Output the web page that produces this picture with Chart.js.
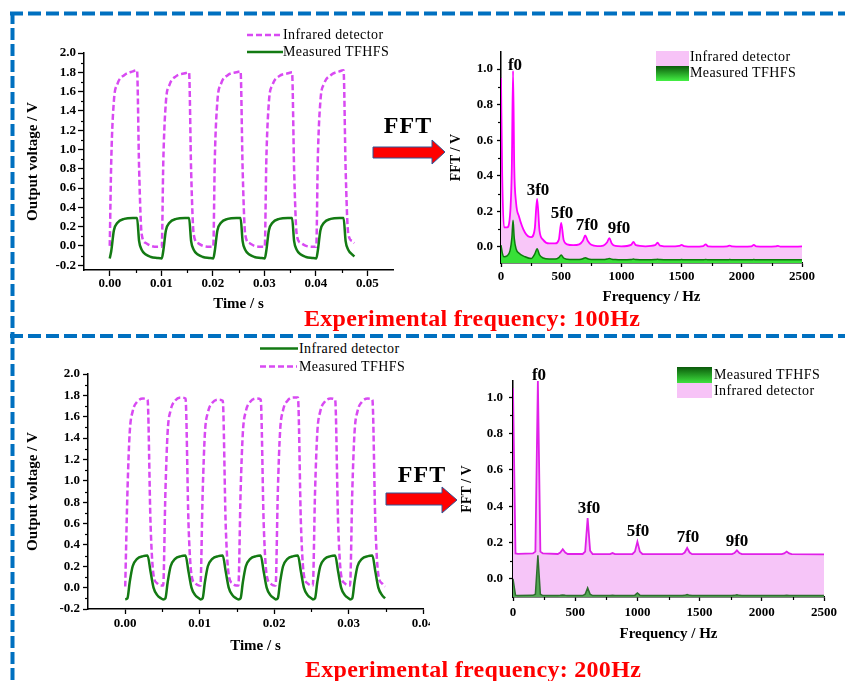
<!DOCTYPE html>
<html>
<head>
<meta charset="utf-8">
<script src="https://cdn.jsdelivr.net/npm/chart.js@4.4.1/dist/chart.umd.min.js"></script>
<style>
  body { margin: 0; background: #fff; }
  #page { position: relative; width: 845px; height: 681px; overflow: hidden; font-family: "Liberation Serif", "Times New Roman", serif; }
  canvas { position: absolute; }
  svg { position: absolute; left: 0; top: 0; }
  .t { position: absolute; line-height: 1; white-space: nowrap; color: #000; }
  .c { transform: translate(-50%, -50%); }
  .l { transform: translate(0, -50%); font-size: 14px; letter-spacing: 0.4px; }
  .big { font-size: 24px; font-weight: bold; letter-spacing: 1px; }
  .red { font-size: 24px; font-weight: bold; color: #ff0000; letter-spacing: 0.3px; }
</style>
</head>
<body>
<div id="page">
  <svg width="845" height="681">
    <defs>
      <linearGradient id="gB" x1="0" y1="0" x2="0" y2="1">
        <stop offset="0" stop-color="#0b5a0b"/><stop offset="1" stop-color="#44f044"/>
      </linearGradient>
      <linearGradient id="gD" x1="0" y1="0" x2="0" y2="1">
        <stop offset="0" stop-color="#0b5a0b"/><stop offset="1" stop-color="#3ee03e"/>
      </linearGradient>
    </defs>
    <line x1="10" y1="13.5" x2="845" y2="13.5" stroke="#0070c0" stroke-width="4" stroke-dasharray="13 5"/>
    <line x1="12.5" y1="12" x2="12.5" y2="681" stroke="#0070c0" stroke-width="4" stroke-dasharray="12 4"/>
    <line x1="10" y1="336" x2="845" y2="336" stroke="#0070c0" stroke-width="4" stroke-dasharray="13 5"/>
    <polygon points="373,147 432,147 432,140 445,152 432,164 432,158 373,158" fill="#ff0000" stroke="#2e5597" stroke-width="1"/>
    <polygon points="386,493 442,493 442,487 457,500 442,513 442,505 386,505" fill="#ff0000" stroke="#2e5597" stroke-width="1"/>
    <line x1="247" y1="35" x2="280" y2="35" stroke="#d84af2" stroke-width="2.5" stroke-dasharray="6 3"/>
    <line x1="247" y1="52" x2="283" y2="52" stroke="#137a13" stroke-width="2.5"/>
    <line x1="260" y1="348.5" x2="298" y2="348.5" stroke="#137a13" stroke-width="2.5"/>
    <line x1="260" y1="366.5" x2="297" y2="366.5" stroke="#d84af2" stroke-width="2.5" stroke-dasharray="6 3"/>
    <rect x="656" y="51" width="33" height="15" fill="#f7c3f7"/>
    <rect x="656" y="66" width="33" height="15" fill="url(#gB)"/>
    <rect x="677" y="367" width="35" height="16" fill="url(#gD)"/>
    <rect x="677" y="383" width="35" height="15" fill="#f7c3f7"/>
  </svg>

  <canvas id="timeA"></canvas>
  <canvas id="fftB"></canvas>
  <canvas id="timeC"></canvas>
  <canvas id="fftD"></canvas>

  <div class="t l" style="left:283px;top:35px">Infrared detector</div>
  <div class="t l" style="left:283px;top:52px">Measured TFHFS</div>
  <div class="t l" style="left:299px;top:349px">Infrared detector</div>
  <div class="t l" style="left:299px;top:367px">Measured TFHFS</div>
  <div class="t l" style="left:690px;top:57px">Infrared detector</div>
  <div class="t l" style="left:690px;top:73px">Measured TFHFS</div>
  <div class="t l" style="left:714px;top:375px">Measured TFHFS</div>
  <div class="t l" style="left:714px;top:391px">Infrared detector</div>

  <div class="t c big" style="left:408px;top:125px">FFT</div>
  <div class="t c big" style="left:422px;top:474px">FFT</div>
  <div class="t c red" style="left:472px;top:318px">Experimental frequency: 100Hz</div>
  <div class="t c red" style="left:473px;top:669px">Experimental frequency: 200Hz</div>
</div>

<script>
// ---- 100 Hz, time domain ----
const timeA = [
  0.0000, 0.0003, 0.0008, 0.0015, 0.0028, 0.0045, 0.0053, 0.0057, 0.0062, 0.0070, 0.0080, 0.0092,
  0.0101, 0.0104, 0.0109, 0.0116, 0.0129, 0.0146, 0.0154, 0.0158, 0.0163, 0.0171, 0.0181, 0.0193,
  0.0201, 0.0204, 0.0209, 0.0216, 0.0229, 0.0246, 0.0254, 0.0258, 0.0263, 0.0271, 0.0281, 0.0293,
  0.0301, 0.0304, 0.0309, 0.0316, 0.0329, 0.0346, 0.0354, 0.0358, 0.0363, 0.0371, 0.0381, 0.0393,
  0.0401, 0.0404, 0.0409, 0.0416, 0.0429, 0.0446, 0.0454, 0.0458, 0.0463, 0.0471, 0.0475
];
const irA = [
  0.00, 0.90, 1.50, 1.68, 1.77, 1.81, 1.82, 0.80, 0.12, 0.03, 0.00, -0.01,
  -0.01, 0.88, 1.49, 1.67, 1.76, 1.79, 1.80, 0.78, 0.12, 0.03, 0.00, -0.01,
  -0.01, 0.90, 1.50, 1.68, 1.77, 1.80, 1.81, 0.80, 0.12, 0.03, 0.00, -0.01,
  -0.01, 0.88, 1.49, 1.67, 1.76, 1.79, 1.80, 0.79, 0.12, 0.03, 0.00, -0.01,
  -0.01, 0.90, 1.50, 1.68, 1.77, 1.81, 1.82, 0.80, 0.13, 0.05, 0.03
];
const tfA = [
  -0.13, -0.05, 0.16, 0.24, 0.28, 0.29, 0.29, 0.05, -0.04, -0.09, -0.115, -0.125,
  -0.13, -0.05, 0.16, 0.24, 0.28, 0.29, 0.29, 0.05, -0.04, -0.09, -0.115, -0.125,
  -0.13, -0.05, 0.16, 0.24, 0.28, 0.29, 0.29, 0.05, -0.04, -0.09, -0.115, -0.125,
  -0.13, -0.05, 0.16, 0.24, 0.28, 0.29, 0.29, 0.05, -0.04, -0.09, -0.115, -0.125,
  -0.13, -0.05, 0.16, 0.24, 0.28, 0.29, 0.29, 0.05, -0.04, -0.09, -0.11
];

// ---- 200 Hz, time domain ----
const timeC = [
  0.0000, 0.0003, 0.0006, 0.0010, 0.0016, 0.0024, 0.0030, 0.0034, 0.0038, 0.0043, 0.0048,
  0.0051, 0.0054, 0.0057, 0.0061, 0.0067, 0.0075, 0.0081, 0.0085, 0.0089, 0.0094, 0.0099,
  0.0101, 0.0104, 0.0107, 0.0111, 0.0117, 0.0125, 0.0131, 0.0135, 0.0139, 0.0144, 0.0149,
  0.0152, 0.0155, 0.0158, 0.0162, 0.0168, 0.0176, 0.0182, 0.0186, 0.0190, 0.0195, 0.0200,
  0.0202, 0.0205, 0.0208, 0.0212, 0.0218, 0.0226, 0.0232, 0.0236, 0.0240, 0.0245, 0.0250,
  0.0252, 0.0255, 0.0258, 0.0262, 0.0268, 0.0276, 0.0282, 0.0286, 0.0290, 0.0295, 0.0300,
  0.0302, 0.0305, 0.0308, 0.0312, 0.0318, 0.0326, 0.0332, 0.0336, 0.0340, 0.0345, 0.0349
];
const irC = [
  0.01, 0.90, 1.45, 1.65, 1.74, 1.77, 1.76, 0.60, 0.12, 0.04, 0.02,
  0.02, 0.90, 1.46, 1.66, 1.75, 1.78, 1.77, 0.60, 0.12, 0.04, 0.02,
  0.02, 0.88, 1.44, 1.64, 1.73, 1.76, 1.75, 0.58, 0.12, 0.04, 0.02,
  0.02, 0.90, 1.45, 1.65, 1.74, 1.77, 1.76, 0.60, 0.12, 0.04, 0.02,
  0.02, 0.90, 1.46, 1.66, 1.75, 1.78, 1.78, 0.60, 0.12, 0.04, 0.02,
  0.02, 0.90, 1.45, 1.65, 1.74, 1.77, 1.76, 0.60, 0.12, 0.04, 0.02,
  0.02, 0.90, 1.45, 1.65, 1.74, 1.77, 1.76, 0.60, 0.12, 0.04, 0.01
];
const tfC = [
  -0.11, -0.10, 0.05, 0.20, 0.27, 0.295, 0.30, 0.15, 0.00, -0.07, -0.10,
  -0.11, -0.10, 0.05, 0.20, 0.27, 0.295, 0.30, 0.15, 0.00, -0.07, -0.10,
  -0.11, -0.10, 0.05, 0.20, 0.27, 0.295, 0.30, 0.15, 0.00, -0.07, -0.10,
  -0.11, -0.10, 0.05, 0.20, 0.27, 0.295, 0.30, 0.15, 0.00, -0.07, -0.10,
  -0.11, -0.10, 0.05, 0.20, 0.27, 0.295, 0.30, 0.15, 0.00, -0.07, -0.10,
  -0.11, -0.10, 0.05, 0.20, 0.27, 0.295, 0.30, 0.15, 0.00, -0.07, -0.10,
  -0.11, -0.10, 0.05, 0.20, 0.27, 0.295, 0.30, 0.15, 0.00, -0.07, -0.10
];

// ---- 100 Hz, spectrum ----
const freqB = [
  0, 10, 25, 50, 75, 90, 100, 110, 125, 150,
  200, 250, 280, 300, 320, 350, 400, 450, 480, 500,
  520, 550, 600, 650, 680, 700, 720, 750, 800, 850,
  880, 900, 920, 950, 1000, 1080, 1100, 1120, 1200, 1280,
  1300, 1320, 1400, 1480, 1500, 1520, 1600, 1680, 1700, 1720,
  1800, 1880, 1900, 1920, 2000, 2080, 2100, 2120, 2200, 2280,
  2300, 2320, 2400, 2500
];
const irB = [
  0.95, 0.40, 0.11, 0.11, 0.18, 0.45, 0.99, 0.45, 0.25, 0.17,
  0.08, 0.055, 0.10, 0.27, 0.09, 0.04, 0.02, 0.02, 0.04, 0.135,
  0.04, 0.015, 0.01, 0.015, 0.035, 0.065, 0.035, 0.012, 0.005, 0.008,
  0.025, 0.05, 0.02, 0.006, 0.004, 0.012, 0.028, 0.01, 0.004, 0.01,
  0.024, 0.008, 0.003, 0.006, 0.012, 0.005, 0.002, 0.005, 0.015, 0.004,
  0.002, 0.004, 0.008, 0.003, 0.002, 0.004, 0.012, 0.003, 0.002, 0.003,
  0.006, 0.002, 0.002, 0.003
];
const tfB = [
  0.01, -0.03, -0.055, -0.05, -0.02, 0.05, 0.15, 0.05, -0.01, -0.035,
  -0.055, -0.065, -0.04, -0.01, -0.045, -0.062, -0.068, -0.068, -0.06, -0.045,
  -0.062, -0.069, -0.071, -0.07, -0.066, -0.06, -0.066, -0.07, -0.071, -0.071,
  -0.068, -0.065, -0.069, -0.071, -0.072, -0.071, -0.068, -0.071, -0.072, -0.071,
  -0.069, -0.071, -0.072, -0.072, -0.071, -0.072, -0.072, -0.072, -0.07, -0.072,
  -0.072, -0.072, -0.071, -0.072, -0.072, -0.072, -0.071, -0.072, -0.072, -0.072,
  -0.072, -0.072, -0.072, -0.072
];

// ---- 200 Hz, spectrum ----
const freqD = [
  0, 20, 40, 160, 180, 200, 220, 240, 360, 380,
  400, 420, 440, 560, 580, 600, 620, 640, 780, 800,
  820, 960, 980, 1000, 1020, 1040, 1360, 1380, 1400, 1420,
  1440, 1760, 1780, 1800, 1820, 1840, 2160, 2180, 2200, 2220,
  2240, 2500
];
const irD = [
  1.05, 0.14, 0.138, 0.14, 0.15, 1.09, 0.15, 0.14, 0.137, 0.145,
  0.163, 0.145, 0.137, 0.137, 0.15, 0.335, 0.155, 0.137, 0.136, 0.142,
  0.136, 0.137, 0.15, 0.205, 0.15, 0.137, 0.136, 0.145, 0.17, 0.145,
  0.136, 0.136, 0.142, 0.157, 0.142, 0.136, 0.136, 0.14, 0.15, 0.14,
  0.136, 0.135
];
const tfD = [
  0.0, -0.09, -0.092, -0.091, -0.085, 0.13, -0.085, -0.092, -0.092, -0.091,
  -0.089, -0.091, -0.092, -0.092, -0.085, -0.05, -0.085, -0.092, -0.092, -0.091,
  -0.092, -0.092, -0.09, -0.078, -0.09, -0.092, -0.092, -0.091, -0.086, -0.091,
  -0.092, -0.092, -0.091, -0.088, -0.091, -0.092, -0.092, -0.092, -0.09, -0.092,
  -0.092, -0.092
];

// ticks
const timeTicksA = [0, 0.01, 0.02, 0.03, 0.04, 0.05];
const timeTicksC = [0, 0.01, 0.02, 0.03, 0.04];
const voltTicks = [-0.2, 0, 0.2, 0.4, 0.6, 0.8, 1.0, 1.2, 1.4, 1.6, 1.8, 2.0];
const freqTicks = [0, 500, 1000, 1500, 2000, 2500];
const fftTicks = [0, 0.2, 0.4, 0.6, 0.8, 1.0];

// harmonic labels (anchor in data units)
const harmLabels = ['f0', '3f0', '5f0', '7f0', '9f0'];
const harmXB = [116, 307, 507, 714, 980];
const harmYB = [1.022, 0.315, 0.185, 0.118, 0.101];
const harmXD = [209, 611, 1005, 1407, 1801];
const harmYD = [1.121, 0.385, 0.258, 0.225, 0.203];

Chart.defaults.font.family = '"Liberation Serif", "Times New Roman", serif';
Chart.defaults.color = '#000';

const pts = (xs, ys) => xs.map((x, i) => ({ x: x, y: ys[i] }));

// small ticks halfway between the labelled ones
const minorTicks = {
  id: 'minorTicks',
  afterDraw(chart) {
    const ctx = chart.ctx;
    const xs = chart.scales.x, ys = chart.scales.y;
    ctx.save();
    ctx.strokeStyle = '#000';
    ctx.lineWidth = 1.2;
    const xt = xs.ticks.map(t => t.value);
    for (let i = 0; i < xt.length - 1; i++) {
      const px = Math.round(xs.getPixelForValue((xt[i] + xt[i + 1]) / 2)) + 0.5;
      ctx.beginPath(); ctx.moveTo(px, xs.top); ctx.lineTo(px, xs.top + 3); ctx.stroke();
    }
    const yt = ys.ticks.map(t => t.value);
    for (let i = 0; i < yt.length - 1; i++) {
      const py = Math.round(ys.getPixelForValue((yt[i] + yt[i + 1]) / 2)) + 0.5;
      ctx.beginPath(); ctx.moveTo(ys.right, py); ctx.lineTo(ys.right - 3, py); ctx.stroke();
    }
    ctx.restore();
  }
};

function harmonicPlugin(xs, ys) {
  return {
    id: 'harmonics',
    afterDatasetsDraw(chart) {
      const ctx = chart.ctx;
      ctx.save();
      ctx.font = 'bold 17px "Liberation Serif", serif';
      ctx.fillStyle = '#000';
      ctx.textAlign = 'center';
      ctx.textBaseline = 'middle';
      harmLabels.forEach((t, i) => {
        ctx.fillText(t, chart.scales.x.getPixelForValue(xs[i]), chart.scales.y.getPixelForValue(ys[i]));
      });
      ctx.restore();
    }
  };
}

function axis(o) {
  return {
    type: 'linear',
    position: o.isX ? 'bottom' : 'left',
    min: o.min,
    max: o.max,
    afterBuildTicks: s => { s.ticks = o.ticks.map(v => ({ value: v })); },
    afterFit: s => {
      if (o.isX) s.height = o.size; else s.width = o.size;
      s.paddingLeft = s.paddingRight = s.paddingTop = s.paddingBottom = 0;
    },
    border: { display: true, color: '#000', width: 1.5 },
    grid: { display: true, drawOnChartArea: false, drawTicks: true, tickLength: o.tl, tickColor: '#000', tickWidth: 1.3, color: '#000' },
    ticks: {
      color: '#000', padding: o.pad, autoSkip: false, maxRotation: 0,
      font: { size: 13, weight: 'bold', lineHeight: 1 },
      callback: v => Number(v).toFixed(o.dec)
    },
    title: {
      display: true, text: o.title, color: '#000',
      font: { size: o.tsize, weight: 'bold', lineHeight: 1 },
      padding: o.isX ? { top: 0, bottom: o.tpad } : { top: o.tpad, bottom: 0 }
    }
  };
}

function makeChart(id, b, datasets, xo, yo, extra) {
  const cv = document.getElementById(id);
  cv.width = b.w; cv.height = b.h;
  cv.style.left = b.left + 'px';
  cv.style.top = b.top + 'px';
  xo.isX = true;
  xo.size = b.top + b.h - b.plotB;
  yo.size = b.plotL - b.left;
  return new Chart(cv, {
    type: 'line',
    data: { datasets: datasets },
    options: {
      responsive: false,
      animation: false,
      layout: { padding: { left: 0, top: b.plotT - b.top, right: b.left + b.w - b.plotR, bottom: 0 } },
      plugins: { legend: { display: false }, tooltip: { enabled: false } },
      elements: { point: { radius: 0 } },
      scales: { x: axis(xo), y: axis(yo) }
    },
    plugins: [minorTicks].concat(extra || [])
  });
}

const MAG_T = '#d84af2', GRN_T = '#137a13';

makeChart('timeA',
  { left: 14, top: 40, w: 396, h: 275, plotL: 84, plotT: 53, plotR: 393, plotB: 270 },
  [
    { data: pts(timeA, irA), borderColor: MAG_T, borderWidth: 2.5, borderDash: [6, 3], cubicInterpolationMode: 'monotone', fill: false, order: 1 },
    { data: pts(timeA, tfA), borderColor: GRN_T, borderWidth: 2.5, cubicInterpolationMode: 'monotone', fill: false, order: 0 }
  ],
  { min: -0.005, max: 0.055, ticks: timeTicksA, dec: 2, tl: 6, pad: 1, title: 'Time / s', tsize: 15, tpad: 3.5 },
  { min: -0.25, max: 2.0, ticks: voltTicks, dec: 1, tl: 6, pad: 2, title: 'Output voltage / V', tsize: 15, tpad: 11.5 }
);

makeChart('fftB',
  { left: 440, top: 40, w: 375, h: 270, plotL: 501, plotT: 52, plotR: 802, plotB: 263 },
  [
    { data: pts(freqB, irB), borderColor: '#ff00ff', borderWidth: 1.8, backgroundColor: '#f8c6f8', fill: '+1', cubicInterpolationMode: 'monotone', order: 1 },
    { data: pts(freqB, tfB), borderColor: '#0c7a0c', borderWidth: 1.5, backgroundColor: '#38e038', fill: 'start', cubicInterpolationMode: 'monotone', order: 0 }
  ],
  { min: 0, max: 2500, ticks: freqTicks, dec: 0, tl: 4, pad: 3.5, title: 'Frequency / Hz', tsize: 15, tpad: 5.5 },
  { min: -0.09, max: 1.096, ticks: fftTicks, dec: 1, tl: 4, pad: 4, title: 'FFT / V', tsize: 14, tpad: 9 },
  [harmonicPlugin(harmXB, harmYB)]
);

makeChart('timeC',
  { left: 14, top: 360, w: 416, h: 300, plotL: 88, plotT: 374, plotR: 423, plotB: 609 },
  [
    { data: pts(timeC, irC), borderColor: MAG_T, borderWidth: 2.5, borderDash: [6, 3], cubicInterpolationMode: 'monotone', fill: false, order: 1 },
    { data: pts(timeC, tfC), borderColor: GRN_T, borderWidth: 2.5, cubicInterpolationMode: 'monotone', fill: false, order: 0 }
  ],
  { min: -0.005, max: 0.04, ticks: timeTicksC, dec: 2, tl: 5, pad: 3.5, title: 'Time / s', tsize: 15, tpad: 6.5 },
  { min: -0.2, max: 2.0, ticks: voltTicks, dec: 1, tl: 5, pad: 3, title: 'Output voltage / V', tsize: 15, tpad: 11.5 }
);

makeChart('fftD',
  { left: 450, top: 365, w: 390, h: 285, plotL: 513, plotT: 381, plotR: 824, plotB: 597 },
  [
    { data: pts(freqD, irD), borderColor: '#e020e8', borderWidth: 1.8, backgroundColor: '#f6c5f8', fill: '+1', tension: 0, order: 1 },
    { data: pts(freqD, tfD), borderColor: '#2e6e2e', borderWidth: 1.5, backgroundColor: '#56a856', fill: 'start', tension: 0, order: 0 }
  ],
  { min: 0, max: 2500, ticks: freqTicks, dec: 0, tl: 4, pad: 5, title: 'Frequency / Hz', tsize: 15, tpad: 8.5 },
  { min: -0.1, max: 1.09, ticks: fftTicks, dec: 1, tl: 4, pad: 6, title: 'FFT / V', tsize: 14, tpad: 10 },
  [harmonicPlugin(harmXD, harmYD)]
);
</script>
</body>
</html>
